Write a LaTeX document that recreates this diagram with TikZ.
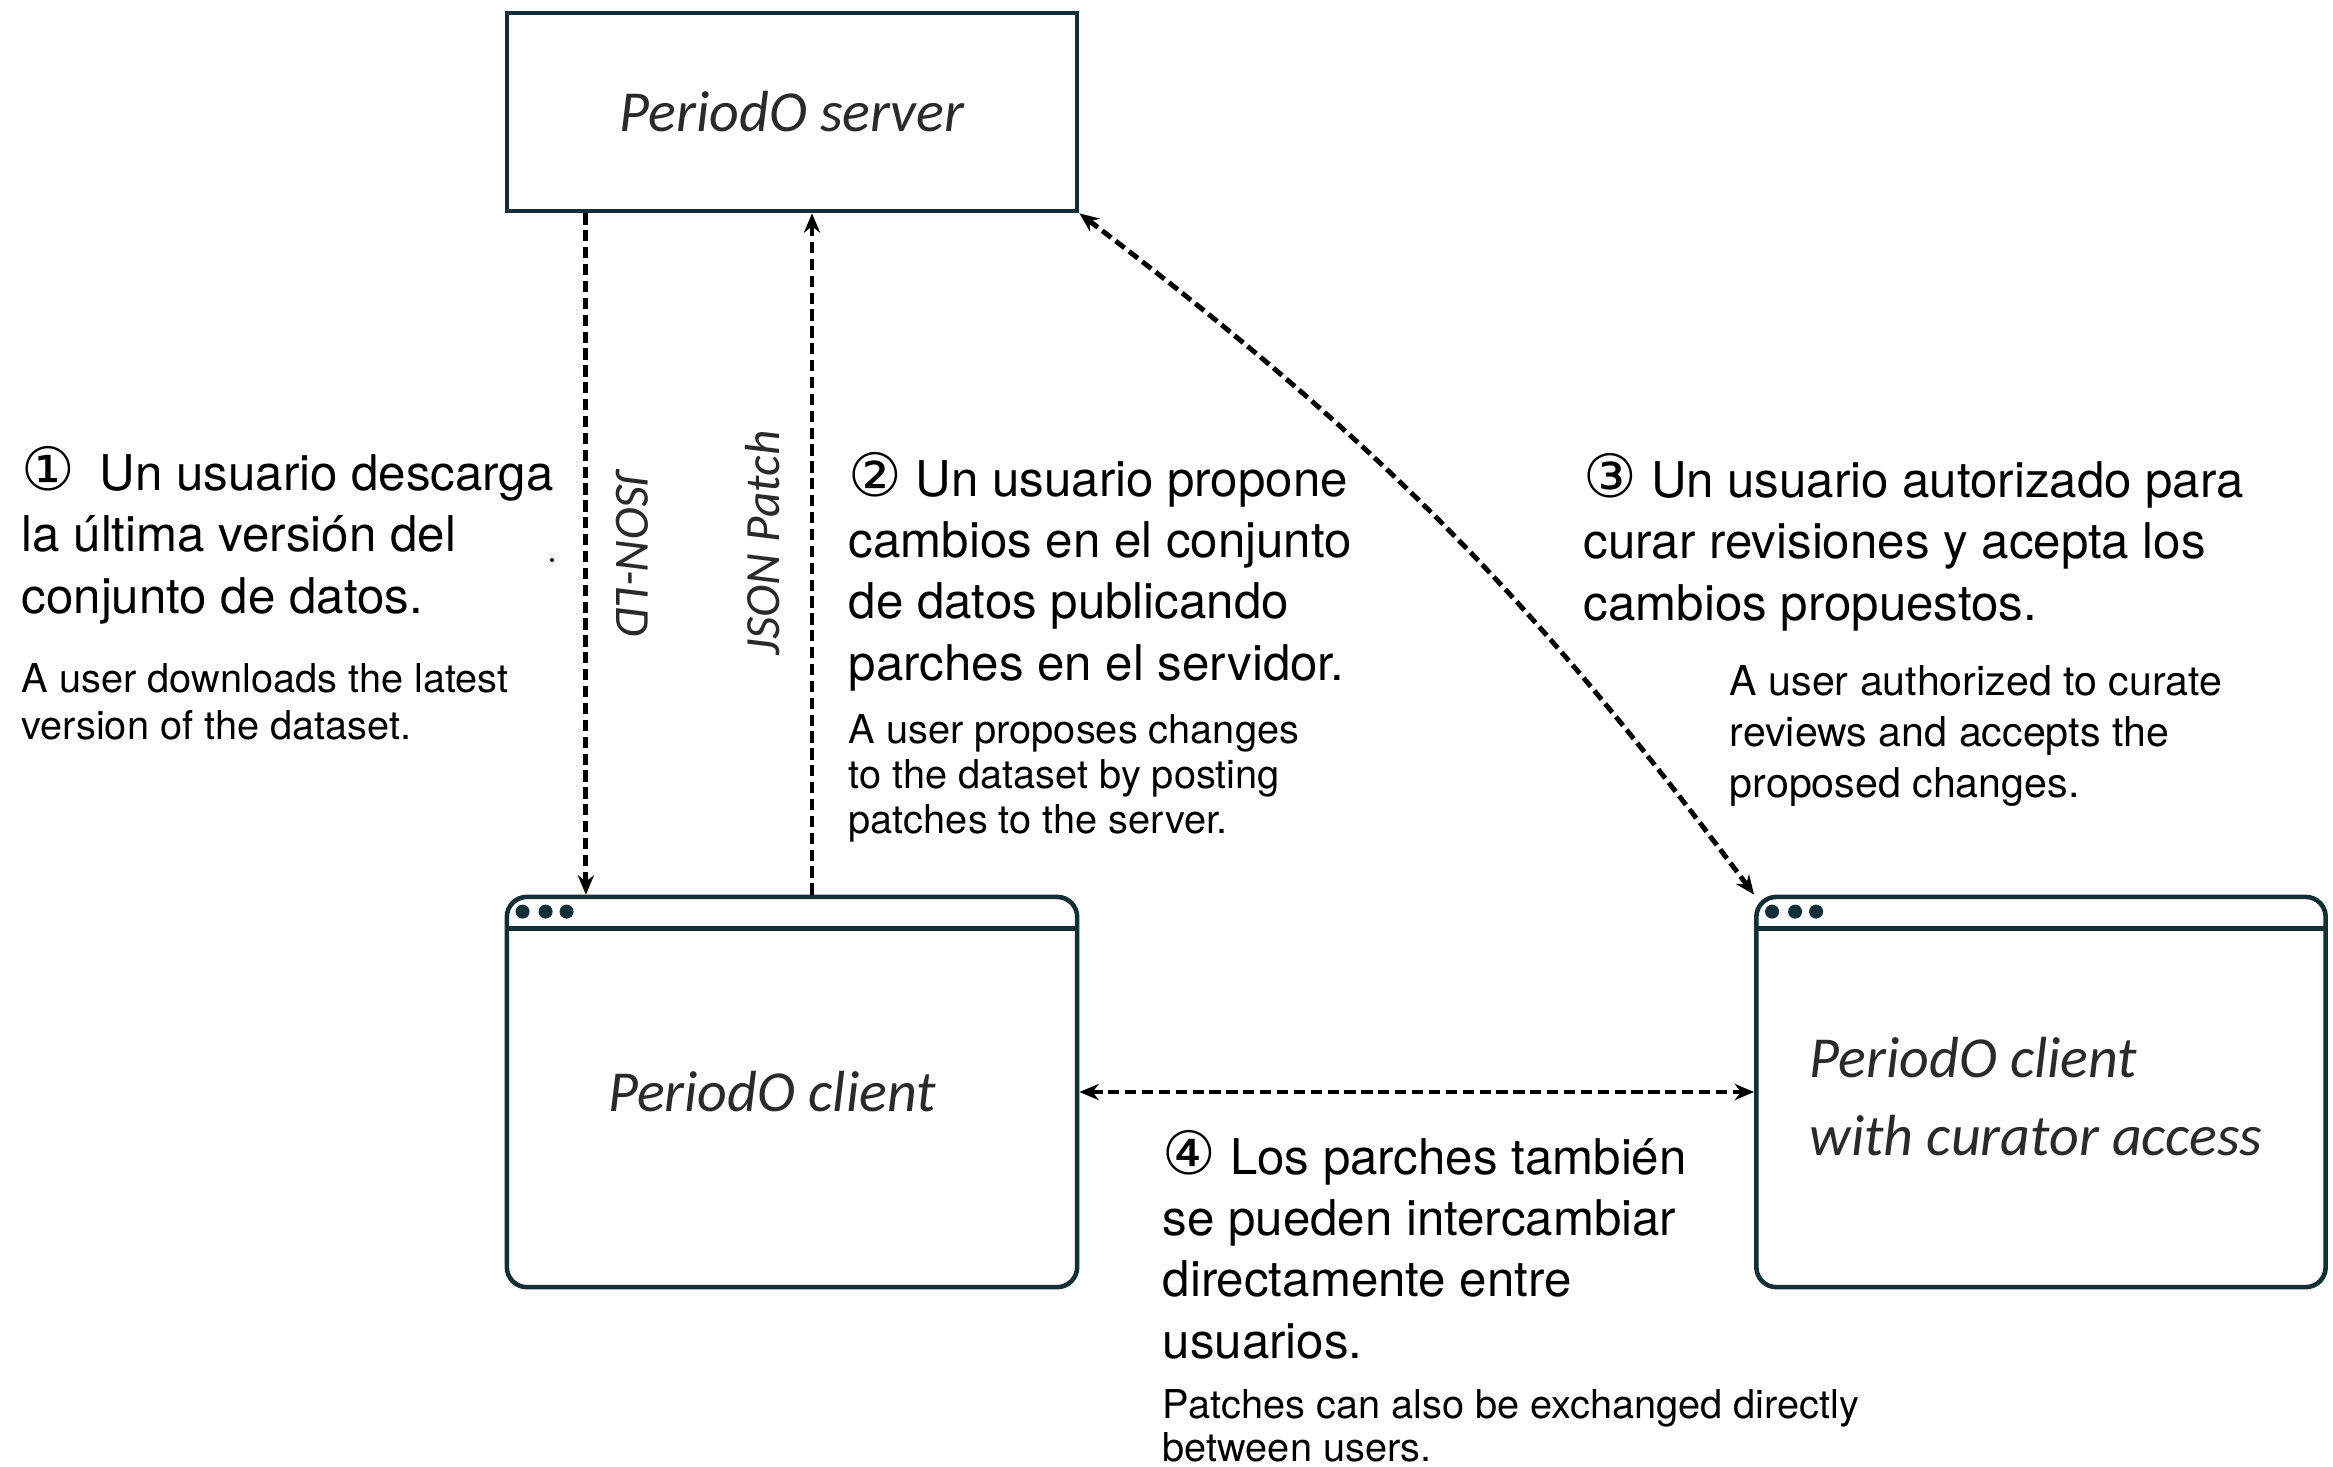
\documentclass[tikz,border=0pt]{standalone}
\usepackage{fontspec}
\setmainfont{TeX Gyre Heros}
\newfontfamily\circfont{DejaVu Sans}
\newfontfamily\labelfont{Carlito}
\usetikzlibrary{arrows.meta}
\definecolor{frame}{HTML}{102F39}
\definecolor{labelgray}{HTML}{2A2A2A}
\newcommand{\stepno}[1]{{\circfont\fontsize{17}{17}\selectfont #1}}

\begin{document}
\begin{tikzpicture}[x=0.01cm, y=-0.01cm,
    box/.style={draw=frame, line width=1.3pt, minimum width=5.70cm, inner sep=0pt},
    window/.style={box, rounded corners=0.2cm, minimum height=3.90cm},
    flow/.style={line width=1.4pt, dash pattern=on 3.2pt off 1.6pt, >={Stealth[length=5.5pt,width=4.6pt]}},
    tag/.style={text=labelgray, font=\labelfont\itshape\fontsize{14}{17}\selectfont},
    title/.style={text=labelgray, align=left, font=\labelfont\itshape\fontsize{16.5}{22}\selectfont},
    es/.style={anchor=base west, align=left, inner sep=0pt, font=\fontsize{14}{17.36}\selectfont},
    en/.style={anchor=base west, align=left, inner sep=0pt, font=\fontsize{11.3}{13.1}\selectfont}]
      %\draw [dotted] (0,0) grid[step=100] (2333,1466);
      \useasboundingbox (0,0) rectangle (2333,1466);
      % server and the two clients
      \node [box, minimum height=1.98cm, title] (server) at (792, 112) {PeriodO server};
      \node [window, title]  (client) at (792,1092) {PeriodO client\hspace*{0.4cm}};
      \node [window, minimum width=5.69cm, title] (curator) at (2041,1092) {\\[-8pt]PeriodO client\hspace*{0.1cm}\\with curator access\hspace*{0.1cm}};
      \foreach \w in {client, curator} {
        \draw [frame, line width=1.3pt] ([yshift=-0.34cm]\w.north west) -- ([yshift=-0.34cm]\w.north east);
        \foreach \dx in {0.18, 0.41, 0.62}
          \fill [frame] ([xshift=\dx cm, yshift=-0.17cm]\w.north west) circle (0.07cm);
      }
      % connectors
      \draw [flow, ->] ([xshift=-2.06cm]server.south) -- ([xshift=-2.06cm]client.north);
      \draw [flow, ->] ([xshift=0.2cm]client.north) -- ([xshift=0.2cm]server.south);
      \draw [flow, <->] (server.south east) to[bend left=8] (curator.north west);
      \draw [flow, <->] (client.east) -- (curator.west);
      \node [tag, rotate=-90] (jsonld)    at (632, 553) {JSON-LD};
      \node [tag, rotate=90]  (jsonpatch) at (763, 543) {JSON Patch};
      \fill (552,560) circle (0.02cm);
      % step texts (anchored at the last line)
      \node [es] (s1) at (21, 613) {\stepno{①}\enspace Un usuario descarga\\la última versión del\\conjunto de datos.};
      \node [en] (e1) at (21, 739) {A user downloads the latest\\version of the dataset.};
      \node [es] (s2) at (848, 680) {\stepno{②} Un usuario propone\\cambios en el conjunto\\de datos publicando\\parches en el servidor.};
      \node [en, font=\fontsize{11.3}{12.66}\selectfont] (e2) at (848, 833) {A user proposes changes\\to the dataset by posting\\patches to the server.};
      \node [es] (s3) at (1583, 620) {\stepno{③} Un usuario autorizado para\\curar revisiones y acepta los\\cambios propuestos.};
      \node [en, font=\fontsize{11.7}{14.37}\selectfont] (e3) at (1729, 797) {A user authorized to curate\\reviews and accepts the\\proposed changes.};
      \node [es] (s4) at (1162, 1358) {\stepno{④} Los parches también\\se pueden intercambiar\\directamente entre\\usuarios.};
      \node [en, font=\fontsize{11.3}{12.23}\selectfont] (e4) at (1162, 1461) {Patches can also be exchanged directly\\between users.};
\end{tikzpicture}
\end{document}
